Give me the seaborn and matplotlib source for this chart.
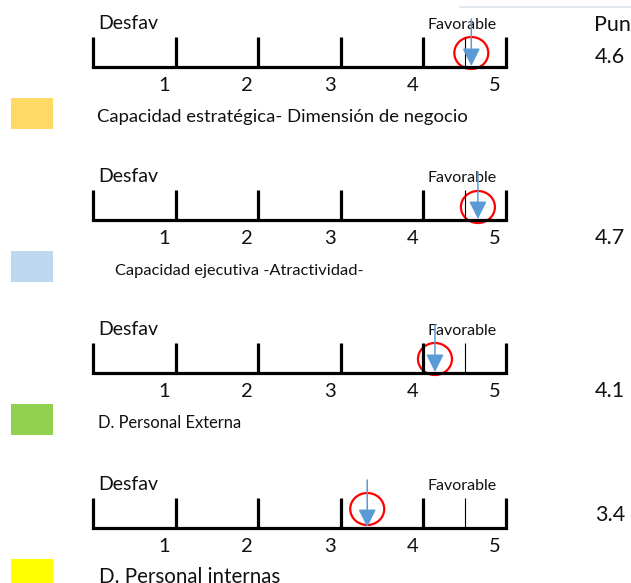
import matplotlib
matplotlib.use("Agg")
import matplotlib.pyplot as plt
import seaborn as sns
from matplotlib.patches import Ellipse, Rectangle

# --- data ---
categories = ["Capacidad estratégica- Dimensión de negocio",
              "Capacidad ejecutiva -Atractividad-",
              "D. Personal Externa",
              "D. Personal internas"]
scores = [4.6, 4.7, 4.1, 3.4]
marker_pos = [4.58, 4.66, 4.14, 3.32]   # where the arrow points on each scale
swatch_colors = ["#FFD966", "#BDD7EE", "#92D050", "#FFFF00"]
scale_ticks = [0, 1, 2, 3, 4, 5]
tick_labels = ["1", "2", "3", "4", "5"]
favorable_from = 4.5

# --- layout (pixels) ---
W, H = 631, 583
X0, UNIT = 93, 82.6          # pixel of value 0 and pixels per unit
panel_top = [0, 153, 306, 461]
score_base = [63, 91, 91, 60]
circle_dy = [53, 54, 53, 48]
label_x = [97, 115, 98, 99]
label_size = [13.3, 11.8, 11.9, 14.8]
INK = "#111111"

sns.set_theme(style="white")
plt.rcParams["font.family"] = ["Lato", "DejaVu Sans"]


def px(x):
    return (x - X0) / UNIT


fig = plt.figure(figsize=(W / 100, H / 100), dpi=100)
ax = fig.add_axes([0, 0, 1, 1])
ax.set_xlim(px(0), px(W))
ax.set_ylim(H, 0)
ax.axis("off")

# faint table border at the top
ax.plot([px(460), px(W)], [7, 7], color="#DDE3EA", lw=1.2)
ax.text(px(594), 31, "Pun", fontsize=15.5, va="baseline", ha="left", color=INK)

for i, name in enumerate(categories):
    t = panel_top[i]
    base = t + 67
    top = t + 37

    # scale ticks and baseline
    ax.vlines(scale_ticks, top, base, color="black", lw=2.3)
    ax.plot([scale_ticks[0], scale_ticks[-1]], [base, base], color="black", lw=2.3,
            solid_capstyle="projecting")
    ax.vlines(favorable_from, top, base, color="black", lw=0.8)
    for k, lab in enumerate(tick_labels):
        ax.text(scale_ticks[k + 1] - 11 / UNIT, t + 91, lab, fontsize=14.5,
                ha="center", va="baseline", color=INK)

    ax.text(px(98), t + 29, "Desfav", fontsize=14, ha="left", va="baseline", color=INK)
    ax.text(px(462), t + 29, "Favorable", fontsize=11.5, ha="center", va="baseline", color=INK)

    # arrow + red circle
    ax.annotate("", xy=(marker_pos[i], base - 1), xytext=(marker_pos[i], t + 19),
                arrowprops=dict(arrowstyle="-|>,head_length=0.9,head_width=0.45",
                                color="#5B9BD5", lw=1.1, shrinkA=0, shrinkB=0))
    ax.add_patch(Ellipse((marker_pos[i], t + circle_dy[i]), 34 / UNIT, 32,
                         fill=False, edgecolor="#FF0000", lw=1.6))

    ax.text(px(595), t + score_base[i], f"{scores[i]:.1f}", fontsize=15.5,
            ha="left", va="baseline", color=INK)

    # swatch and category label
    ax.add_patch(Rectangle((px(11), t + 98), 42 / UNIT, 31, color=swatch_colors[i], lw=0))
    ax.text(px(label_x[i]), t + 122, name, fontsize=label_size[i],
            ha="left", va="baseline", color=INK)

fig.savefig("out.png", dpi=100)
